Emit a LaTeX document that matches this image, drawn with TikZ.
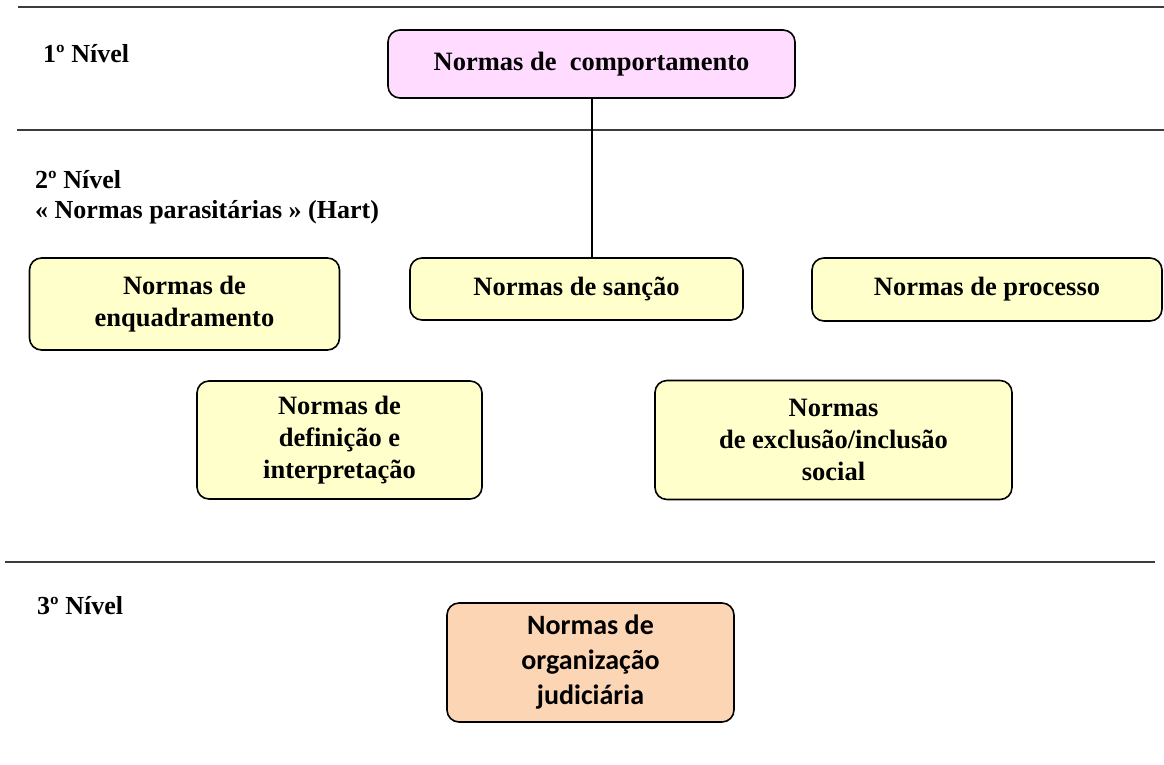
\documentclass[tikz,border=0pt]{standalone}
\usepackage{fontspec}
\setmainfont{Liberation Serif}
\newfontfamily\calib{Carlito}
\usetikzlibrary{positioning}

\definecolor{pinkbox}{RGB}{255,220,255}
\definecolor{yellowbox}{RGB}{255,255,204}
\definecolor{orangebox}{RGB}{252,213,180}
\definecolor{sepline}{RGB}{60,60,60}

\tikzset{
  normbox/.style={draw=black, line width=1.6pt, rounded corners=12pt,
    align=center, inner sep=0pt, font=\bfseries\fontsize{26.5}{32}\selectfont},
  levellabel/.style={anchor=base west, align=left, inner sep=0pt,
    font=\bfseries\fontsize{26}{30}\selectfont},
  separator/.style={draw=sepline, line width=1.5pt}
}

\begin{document}
\begin{tikzpicture}[x=1pt, y=-1pt]
      \useasboundingbox (0,0) rectangle (1164,764);

      % separators between the levels
      \draw[separator] (18,7) -- (1164,7);
      \draw[separator] (17,130) -- (1164,130);
      \draw[separator] (5,562) -- (1155,562);

      % level labels
      \node[levellabel] (lvlone) at (43,62) {1º Nível};
      \node[levellabel] (lvltwo) at (35,218) {2º Nível\\« Normas parasitárias » (Hart)};
      \node[levellabel] (lvlthree) at (37,614) {3º Nível};

      % 1st level
      \node[normbox, fill=pinkbox, minimum width=407pt, minimum height=68pt]
        (komp) at (591.5,64) {Normas de~ comportamento};

      % 2nd level
      \node[normbox, fill=yellowbox, minimum width=310pt, minimum height=92pt]
        (enq) at (184.5,304) {Normas de\\enquadramento};
      \node[normbox, fill=yellowbox, minimum width=333pt, minimum height=62pt]
        (sanc) at (576.5,289) {Normas de sanção};
      \node[normbox, fill=yellowbox, minimum width=350pt, minimum height=63pt]
        (proc) at (987,289.5) {Normas de processo};
      \node[normbox, fill=yellowbox, minimum width=285pt, minimum height=118pt]
        (defi) at (339.5,440) {Normas de\\definição e\\interpretação};
      \node[normbox, fill=yellowbox, minimum width=357pt, minimum height=119pt]
        (excl) at (833.5,440) {Normas\\de exclusão/inclusão\\social};

      % 3rd level
      \node[normbox, fill=orangebox, minimum width=287pt, minimum height=119pt,
        font=\calib\bfseries\fontsize{28}{35}\selectfont]
        (org) at (590.5,662.5) {Normas de\\organização\\judiciária};

      \draw[line width=2pt] (komp.south) -- (komp.south |- sanc.north);
\end{tikzpicture}
\end{document}
